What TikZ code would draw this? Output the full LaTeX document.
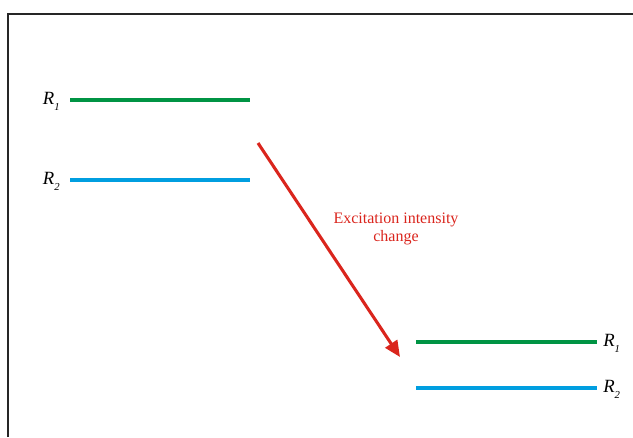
\documentclass[tikz,border=0pt]{standalone}
\usepackage{fontspec}
\setmainfont{Liberation Serif}
\usepackage{xcolor}
\definecolor{levelgreen}{RGB}{0,148,68}
\definecolor{levelblue}{RGB}{0,158,224}
\definecolor{arrowred}{RGB}{218,37,29}
\usepackage{tikz}
\usetikzlibrary{arrows.meta,positioning}
\newcommand\lvlR[1]{\textit{R}\raisebox{-0.6ex}{\fontsize{8}{8}\selectfont\textit{#1}}}
\tikzset{
  lvl_green/.style={draw=levelgreen,line width=2.6pt},
  lvl_blue/.style={draw=levelblue,line width=2.6pt},
  lvl_lab/.style={font=\fontsize{14}{16}\selectfont,inner sep=0pt},
  arr/.style={-{Triangle[length=12pt,width=10.5pt]},line width=2.3pt,draw=arrowred},
  arr_lab/.style={font=\fontsize{12}{13.5}\selectfont,text=arrowred,align=center},
}

\begin{document}
\begin{tikzpicture}[x=0.75pt,y=-0.75pt]

  \useasboundingbox (0,0) rectangle (633,437);

  % frame (only left and top edges fall on the page)
  \draw[black!85,line width=1.1pt,line join=miter] (8,437) -- (8,14) -- (633,14);

  % levels before the change
  \coordinate (g1a) at (70,100);
  \coordinate (g1b) at (250,100);
  \coordinate (b1a) at (70,180);
  \coordinate (b1b) at (250,180);

  % levels after the change
  \coordinate (g2a) at (416,342);
  \coordinate (g2b) at (597,342);
  \coordinate (b2a) at (416,388);
  \coordinate (b2b) at (597,388);

  \draw[lvl_green] (g1a) -- (g1b);
  \draw[lvl_blue]  (b1a) -- (b1b);
  \draw[lvl_green] (g2a) -- (g2b);
  \draw[lvl_blue]  (b2a) -- (b2b);

  \node (r1l) [lvl_lab, left=7.5pt of g1a, yshift=-1pt] {\lvlR{1}};
  \node (r2l) [lvl_lab, left=7.5pt of b1a, yshift=-1pt] {\lvlR{2}};
  \node (r1r) [lvl_lab, right=4.5pt of g2b, yshift=-1pt] {\lvlR{1}};
  \node (r2r) [lvl_lab, right=4.5pt of b2b, yshift=-1pt] {\lvlR{2}};

  % intensity change
  \coordinate (from) at (258,143);
  \coordinate (to)   at (400,357);
  \draw[arr] (from) -- (to);

  \node (chg) [arr_lab] at (396,229) {Excitation intensity\\change};

\end{tikzpicture}
\end{document}
